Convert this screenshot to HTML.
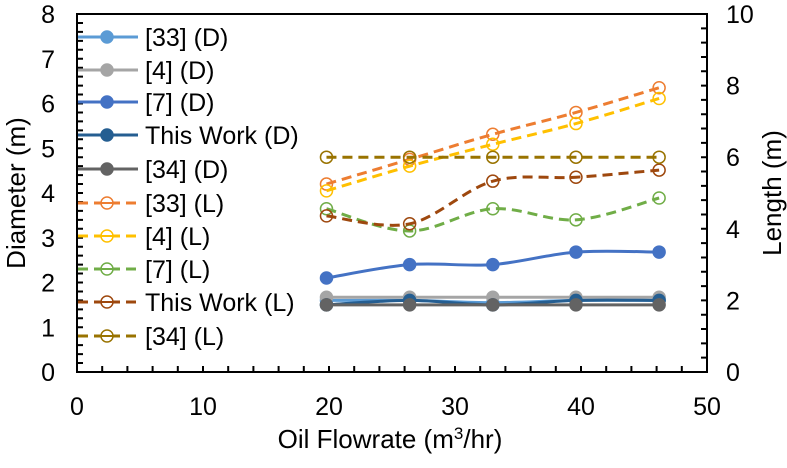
<!DOCTYPE html>
<html><head><meta charset="utf-8"><style>
body{margin:0;background:#fff;}
svg text{font-family:"Liberation Sans",Arial,sans-serif;fill:#000;}
</style></head><body>
<svg id="chart" width="787" height="463" viewBox="0 0 787 463">
<g id="axes"></g><g id="series"></g><g id="legend"></g>
</svg>
<script>
const xs = [19.8, 26.4, 33.0, 39.6, 46.2];
const d33 = [1.6, 1.6, 1.55, 1.6, 1.6];
const d4 = [1.67, 1.67, 1.67, 1.67, 1.67];
const d7 = [2.1, 2.4, 2.4, 2.68, 2.68];
const dThis = [1.5, 1.6, 1.5, 1.6, 1.6];
const d34 = [1.5, 1.5, 1.5, 1.5, 1.5];
const l33 = [5.25, 5.94, 6.64, 7.25, 7.94];
const l4 = [5.06, 5.75, 6.36, 6.94, 7.64];
const l7 = [4.56, 3.94, 4.56, 4.25, 4.86];
const lThis = [4.36, 4.14, 5.33, 5.44, 5.64];
const l34 = [6, 6, 6, 6, 6];
const xTicks = [0, 10, 20, 30, 40, 50];
const yLTicks = [0, 1, 2, 3, 4, 5, 6, 7, 8];
const yRTicks = [0, 2, 4, 6, 8, 10];

const L = 77, R = 707, T = 14, B = 372;
const X = v => L + (v / 50) * (R - L);
const YL = v => B - (v / 8) * (B - T);
const YR = v => B - (v / 10) * (B - T);
const NS = "http://www.w3.org/2000/svg";
function mk(tag, attrs, parent) { const e = document.createElementNS(NS, tag); for (const k in attrs) e.setAttribute(k, attrs[k]); parent.appendChild(e); return e; }
const axes = document.getElementById('axes'), series = document.getElementById('series'), legend = document.getElementById('legend');

let e = mk('rect', {x: L, y: T, width: R - L, height: B - T, fill: 'none', stroke: '#000', 'stroke-width': 2}, axes);
 
let d = '';
for (let v = 0; v <= 50.001; v += 2) d += `M${X(v)},${B}v-6`;
for (let v = 0; v <= 8.001; v += 0.2) d += `M${L},${YL(v)}h6`;
for (let v = 0; v <= 10.001; v += 0.4) d += `M${R},${YR(v)}h-6`;
e = mk('path', {d: d, stroke: '#000', 'stroke-width': 2, fill: 'none'}, axes);
 
xTicks.forEach(t => {
  const tx = mk('text', {x: X(t), y: 415, 'font-size': 25, 'text-anchor': 'middle'}, axes); tx.textContent = t;
   
});
yLTicks.forEach(t => {
  const tx = mk('text', {x: 55, y: YL(t) + 9, 'font-size': 25, 'text-anchor': 'end'}, axes); tx.textContent = t;
   
});
yRTicks.forEach(t => {
  const tx = mk('text', {x: 726, y: YR(t) + 9, 'font-size': 25, 'text-anchor': 'start'}, axes); tx.textContent = t;
   
});
let t1 = mk('text', {x: 390, y: 448, 'font-size': 26, 'text-anchor': 'middle'}, axes);
t1.innerHTML = 'Oil Flowrate (m<tspan dy="-9" font-size="17">3</tspan><tspan dy="9">/hr)</tspan>';
 
t1 = mk('text', {x: 0, y: 0, 'font-size': 26, 'text-anchor': 'middle', transform: 'translate(25,193) rotate(-90)'}, axes);
t1.textContent = 'Diameter (m)';
 
t1 = mk('text', {x: 0, y: 0, 'font-size': 26, 'text-anchor': 'middle', transform: 'translate(781,193) rotate(-90)'}, axes);
t1.textContent = 'Length (m)';
 

function smoothPath(pts) {
  let d = `M${pts[0][0]},${pts[0][1]}`;
  for (let i = 0; i < pts.length - 1; i++) {
    const p0 = pts[i - 1] || pts[i], p1 = pts[i], p2 = pts[i + 1], p3 = pts[i + 2] || p2;
    const c1 = [p1[0] + (p2[0] - p0[0]) / 6, p1[1] + (p2[1] - p0[1]) / 6];
    const c2 = [p2[0] - (p3[0] - p1[0]) / 6, p2[1] - (p3[1] - p1[1]) / 6];
    d += ` C${c1[0]},${c1[1]} ${c2[0]},${c2[1]} ${p2[0]},${p2[1]}`;
  }
  return d;
}
const defs = [
  {name: '[33] (D)', vals: d33, c: '#5b9bd5', dash: false, right: false},
  {name: '[4] (D)', vals: d4, c: '#a5a5a5', dash: false, right: false},
  {name: '[7] (D)', vals: d7, c: '#4472c4', dash: false, right: false},
  {name: 'This Work (D)', vals: dThis, c: '#255e91', dash: false, right: false},
  {name: '[34] (D)', vals: d34, c: '#636363', dash: false, right: false},
  {name: '[33] (L)', vals: l33, c: '#ed7d31', dash: true, right: true},
  {name: '[4] (L)', vals: l4, c: '#ffc000', dash: true, right: true},
  {name: '[7] (L)', vals: l7, c: '#70ad47', dash: true, right: true},
  {name: 'This Work (L)', vals: lThis, c: '#9e480e', dash: true, right: true},
  {name: '[34] (L)', vals: l34, c: '#997300', dash: true, right: true},
];
const legY = [37, 70, 102, 135, 169, 203, 236, 269, 302, 336];
defs.forEach((s, i) => {
  const Y = s.right ? YR : YL;
  const pts = xs.map((x, j) => [X(x), Y(s.vals[j])]);
  const g = mk('g', {}, series);
  
  
  const p = mk('path', {d: smoothPath(pts), fill: 'none', stroke: s.c, 'stroke-width': 3, 'stroke-dasharray': s.dash ? '10 6' : 'none'}, g);
   
  pts.forEach(pt => {
    const c = mk('circle', {cx: pt[0], cy: pt[1], r: 6, fill: s.dash ? 'none' : s.c, stroke: s.c, 'stroke-width': 1.5}, g);
     
  });
  const lg = mk('g', {}, legend);
   
  const y = legY[i];
  mk('line', {x1: 78, y1: y, x2: 138, y2: y, stroke: s.c, 'stroke-width': 3, 'stroke-dasharray': s.dash ? '10 6' : 'none'}, lg);
  mk('circle', {cx: 107, cy: y, r: 6, fill: s.dash ? '#fff' : s.c, stroke: s.c, 'stroke-width': 1.5}, lg);
  if (s.dash) mk('line', {x1: 101, y1: y, x2: 113, y2: y, stroke: s.c, 'stroke-width': 2}, lg);
  const tx = mk('text', {x: 145, y: y + 9, 'font-size': 25}, lg); tx.textContent = s.name;
});
</script>
</body></html>
